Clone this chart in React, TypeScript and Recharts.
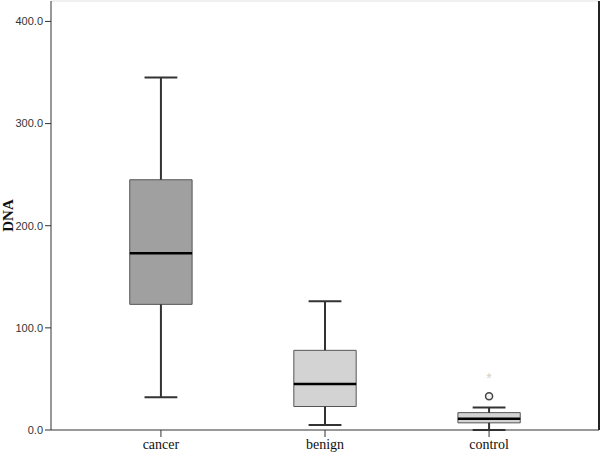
import React from "react";
import {
  ComposedChart,
  XAxis,
  YAxis,
  Scatter,
  ReferenceArea,
  ReferenceLine,
} from "recharts";

const categories = ["cancer", "benign", "control"];
const mins = [32, 5, 0];
const q1s = [123, 23, 7];
const medians = [173, 45, 11];
const q3s = [245, 78, 17];
const maxs = [345, 126, 22];
const boxFills = ["#a0a0a0", "#d3d3d3", "#d3d3d3"];

// outliers (circle) and extremes (star), by category index
const outlierCats = [2];
const outlierValues = [33];
const extremeCats = [2];
const extremeValues = [52];

const yTicks = [0, 100, 200, 300, 400];

const BOX_HALF = 0.19;
const CAP_HALF = 0.1;

const outlierData = outlierCats.map((c, i) => ({ x: c + 1, y: outlierValues[i] }));
const extremeData = extremeCats.map((c, i) => ({ x: c + 1, y: extremeValues[i] }));

const Circle = (props: any) => (
  <circle cx={props.cx} cy={props.cy} r={3.5} fill="#f4f4f4" stroke="#444" strokeWidth={1.5} />
);

const Star = (props: any) => (
  <text
    x={props.cx}
    y={props.cy + 6}
    textAnchor="middle"
    fontSize={14}
    fill="#cfcfcf"
    fontFamily="Liberation Sans"
  >
    *
  </text>
);

export default function App() {
  return (
    <div style={{ position: "fixed", left: 0, top: 0, background: "#fff" }}>
      <ComposedChart width={600} height={458} margin={{ top: 1, right: 1, left: 0, bottom: 0 }}>
        <XAxis
          type="number"
          dataKey="x"
          domain={[0.33, 3.67]}
          ticks={[1, 2, 3]}
          tickFormatter={(v: number) => categories[v - 1]}
          allowDataOverflow
          height={28}
          stroke="#333"
          tickSize={7}
          tick={{ fill: "#111", fontSize: 14, fontFamily: "Liberation Serif" }}
        />
        <YAxis
          type="number"
          dataKey="y"
          domain={[0, 420]}
          ticks={yTicks}
          allowDataOverflow
          width={51}
          stroke="#333"
          tickSize={6}
          tickFormatter={(v: number) => v.toFixed(1)}
          tick={{ fill: "#333", fontSize: 11, fontFamily: "Liberation Sans" }}
          label={{
            value: "DNA",
            angle: -90,
            position: "insideLeft",
            offset: 8,
            style: { fontFamily: "Liberation Serif", fontWeight: "bold", fontSize: 15, fill: "#111", textAnchor: "middle" },
          }}
        />
        <ReferenceLine y={420} stroke="#e0e0e0" />
        <ReferenceLine x={3.67} stroke="#222" strokeWidth={2} />
        {categories.map((c, i) => {
          const x = i + 1;
          return (
            <React.Fragment key={c}>
              <ReferenceLine segment={[{ x, y: q3s[i] }, { x, y: maxs[i] }]} stroke="#333" strokeWidth={2} />
              <ReferenceLine segment={[{ x, y: mins[i] }, { x, y: q1s[i] }]} stroke="#333" strokeWidth={2} />
              <ReferenceLine
                segment={[{ x: x - CAP_HALF, y: maxs[i] }, { x: x + CAP_HALF, y: maxs[i] }]}
                stroke="#333"
                strokeWidth={2}
              />
              <ReferenceLine
                segment={[{ x: x - CAP_HALF, y: mins[i] }, { x: x + CAP_HALF, y: mins[i] }]}
                stroke="#333"
                strokeWidth={2}
              />
              <ReferenceArea
                x1={x - BOX_HALF}
                x2={x + BOX_HALF}
                y1={q1s[i]}
                y2={q3s[i]}
                fill={boxFills[i]}
                fillOpacity={1}
                stroke="#555"
                strokeWidth={1}
              />
              <ReferenceLine
                segment={[{ x: x - BOX_HALF, y: medians[i] }, { x: x + BOX_HALF, y: medians[i] }]}
                stroke="#000"
                strokeWidth={2.5}
              />
            </React.Fragment>
          );
        })}
        <Scatter data={outlierData} shape={Circle} isAnimationActive={false} />
        <Scatter data={extremeData} shape={Star} isAnimationActive={false} />
      </ComposedChart>
    </div>
  );
}
